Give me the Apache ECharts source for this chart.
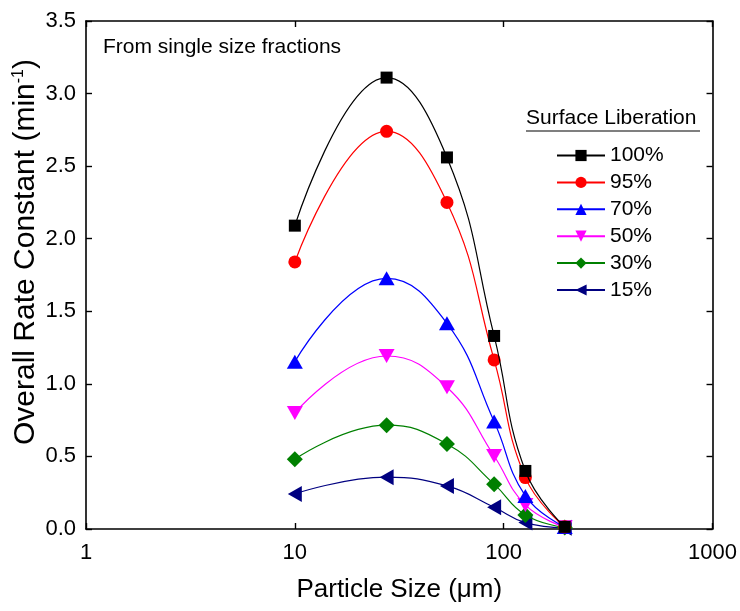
<!DOCTYPE html>
<html>
<head>
<meta charset="utf-8">
<script src="https://cdn.jsdelivr.net/npm/echarts@6/dist/echarts.min.js"></script>
<style>
  html, body { margin: 0; padding: 0; background: #fff; }
  #chart { width: 740px; height: 611px; }
</style>
</head>
<body>
<div id="chart"></div>
<script>
// Particle sizes (µm) of the single size fractions
const sizes = [10, 27.5, 53.5, 90, 127, 196];

// Overall rate constant (min^-1) per surface liberation class
const rate100 = [2.09, 3.11, 2.56, 1.33, 0.40, 0.015];
const rate95  = [1.84, 2.74, 2.25, 1.165, 0.354, 0.015];
const rate70  = [1.153, 1.727, 1.417, 0.74, 0.228, 0.013];
const rate50  = [0.80, 1.192, 0.977, 0.503, 0.166, 0.012];
const rate30  = [0.481, 0.715, 0.586, 0.309, 0.097, 0.010];
const rate15  = [0.242, 0.357, 0.297, 0.15, 0.044, 0.008];

const seriesNames = ['100%', '95%', '70%', '50%', '30%', '15%'];
const seriesValues = [rate100, rate95, rate70, rate50, rate30, rate15];
const seriesColors = ['#000000', '#ff0000', '#0000ff', '#ff00ff', '#008000', '#000080'];
const seriesSymbols = ['rect', 'circle', 'triangle', 'triangle', 'diamond', 'triangle'];
const symbolSizes = [12, 13, [16, 14], [16, 14], 16, [16, 14]];
const symbolRotations = [0, 0, 0, 180, 0, 90];

const xTickLabels = ['1', '10', '100', '1000'];
const yTickLabels = ['0.0', '0.5', '1.0', '1.5', '2.0', '2.5', '3.0', '3.5'];

const FONT = 'Liberation Sans, Arial, sans-serif';

const chart = echarts.init(document.getElementById('chart'), null, { renderer: 'canvas' });

const series = seriesNames.map((name, i) => ({
  name: name,
  type: 'line',
  xAxisIndex: 0,
  yAxisIndex: 0,
  data: sizes.map((s, j) => [s, seriesValues[i][j]]),
  smooth: 0.45,
  symbol: seriesSymbols[i],
  symbolSize: symbolSizes[i],
  symbolRotate: symbolRotations[i],
  showAllSymbol: true,
  lineStyle: { color: seriesColors[i], width: 1.2 },
  itemStyle: { color: seriesColors[i], borderWidth: 0 },
  emphasis: { disabled: true },
  z: 10 - i
}));

const axisLine = { show: true, onZero: false, lineStyle: { color: '#000', width: 1.6 } };
const axisTick = { show: true, inside: true, length: 6, lineStyle: { color: '#000', width: 1.4 } };

chart.setOption({
  animation: false,
  backgroundColor: '#fff',
  grid: { left: 86, right: 27, top: 21, bottom: 82, containLabel: false },
  xAxis: [
    {
      type: 'log', logBase: 10, min: 1, max: 1000,
      position: 'bottom',
      axisLine: axisLine, axisTick: axisTick,
      minorTick: { show: false }, splitLine: { show: false },
      axisLabel: {
        color: '#000', fontFamily: FONT, fontSize: 22, margin: 13,
        formatter: v => xTickLabels[Math.round(Math.log10(v))]
      },
      name: 'Particle Size (\u03bcm)',
      nameLocation: 'middle', nameGap: 48,
      nameTextStyle: { color: '#000', fontFamily: FONT, fontSize: 26 }
    },
    {
      type: 'log', logBase: 10, min: 1, max: 1000,
      position: 'top',
      axisLine: axisLine, axisTick: axisTick,
      axisLabel: { show: false }, splitLine: { show: false }
    }
  ],
  yAxis: [
    {
      type: 'value', min: 0, max: 3.5, interval: 0.5,
      position: 'left',
      axisLine: axisLine, axisTick: axisTick, splitLine: { show: false },
      axisLabel: {
        color: '#000', fontFamily: FONT, fontSize: 22, margin: 10,
        formatter: v => yTickLabels[Math.round(v / 0.5)]
      }
    },
    {
      type: 'value', min: 0, max: 3.5, interval: 0.5,
      position: 'right',
      axisLine: axisLine, axisTick: axisTick, splitLine: { show: false },
      axisLabel: { show: false }
    }
  ],
  legend: {
    orient: 'vertical',
    left: 556, top: 145,
    padding: 0,
    itemWidth: 48, itemHeight: 14, itemGap: 5.9,
    data: seriesNames,
    textStyle: { color: '#000', fontFamily: FONT, fontSize: 21, lineHeight: 20 },
    selectedMode: false
  },
  graphic: [
    {
      type: 'text', left: 103, top: 37,
      style: { text: 'From single size fractions', fill: '#000', font: '21px ' + FONT }
    },
    {
      type: 'text', left: 526, top: 108,
      style: { text: 'Surface Liberation', fill: '#000', font: '21px ' + FONT }
    },
    {
      type: 'line',
      shape: { x1: 526, y1: 131, x2: 700, y2: 131 },
      style: { stroke: '#000', lineWidth: 1.2 }
    },
    {
      type: 'text',
      x: 26, y: 252,
      rotation: Math.PI / 2,
      style: {
        text: 'Overall Rate Constant (min{sup|-1})',
        rich: { sup: { fontSize: 16, fontFamily: FONT, fill: '#000', verticalAlign: 'top', padding: [0, 0, 14, 0] } },
        fill: '#000',
        font: '30px ' + FONT,
        align: 'center',
        verticalAlign: 'middle'
      }
    }
  ],
  series: series
});
</script>
</body>
</html>
